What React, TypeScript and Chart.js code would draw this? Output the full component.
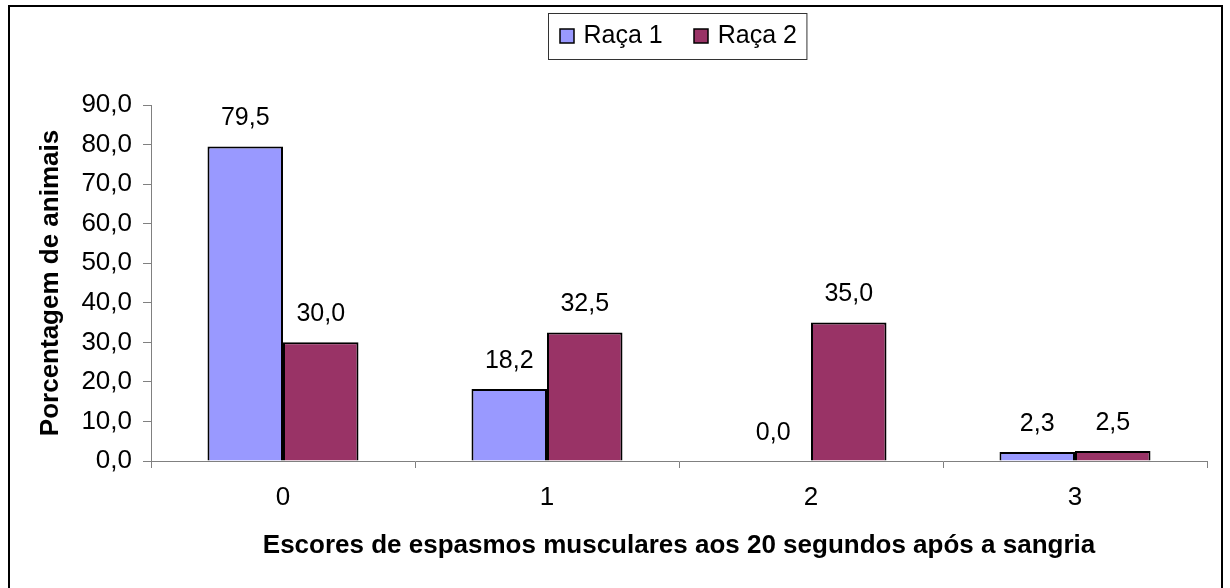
import React, { useEffect, useRef } from "react";
import { Chart, registerables } from "chart.js";

Chart.register(...registerables);

const categories = ["0", "1", "2", "3"];
const raca1 = [79.5, 18.2, 0.0, 2.3];
const raca2 = [30.0, 32.5, 35.0, 2.5];
const seriesNames = ["Raça 1", "Raça 2"];
const seriesColors = ["#9999FF", "#993366"];
const yTitle = "Porcentagem de animais";
const xTitle = "Escores de espasmos musculares aos 20 segundos após a sangria";

const FONT = "'Liberation Sans', Arial, sans-serif";
const fmt = (v: number) => v.toFixed(1).replace(".", ",");

const dataLabels = {
  id: "dataLabels",
  afterDatasetsDraw(chart: any) {
    const ctx = chart.ctx;
    ctx.save();
    ctx.font = `25px ${FONT}`;
    ctx.fillStyle = "#000";
    ctx.textAlign = "center";
    ctx.textBaseline = "middle";
    chart.data.datasets.forEach((ds: any, i: number) => {
      const meta = chart.getDatasetMeta(i);
      meta.data.forEach((el: any, j: number) => {
        ctx.fillText(fmt(ds.data[j]), el.x, el.y - 28);
      });
    });
    ctx.restore();
  },
};

const boxedLegend = {
  id: "boxedLegend",
  afterDraw(chart: any) {
    const ctx = chart.ctx;
    const area = chart.chartArea;
    ctx.save();
    ctx.font = `25px ${FONT}`;
    const sq = 14;
    const gapText = 10;
    const gapItems = 31;
    const padX = 11;
    const widths = chart.data.datasets.map((ds: any) => sq + gapText + ctx.measureText(ds.label).width);
    const total = widths.reduce((a: number, b: number) => a + b, 0) + gapItems * (widths.length - 1) + padX * 2 - 1;
    const cx = (area.left + area.right) / 2 - 2;
    const left = Math.round(cx - total / 2) + 0.5;
    const top = 13.5;
    const h = 46;
    const cy = top + h / 2 - 1;
    ctx.strokeStyle = "#333";
    ctx.lineWidth = 1;
    ctx.strokeRect(left, top, total, h);
    let x = left + padX;
    chart.data.datasets.forEach((ds: any, i: number) => {
      ctx.fillStyle = ds.backgroundColor;
      ctx.fillRect(Math.round(x), Math.round(cy - sq / 2), sq, sq);
      ctx.strokeStyle = "#000";
      ctx.lineWidth = 1.5;
      ctx.strokeRect(Math.round(x), Math.round(cy - sq / 2), sq, sq);
      ctx.fillStyle = "#000";
      ctx.textAlign = "left";
      ctx.textBaseline = "middle";
      ctx.fillText(ds.label, x + sq + gapText, cy + 1);
      x += widths[i] + gapItems;
    });
    ctx.restore();
  },
};

export default function App() {
  const ref = useRef<HTMLCanvasElement | null>(null);
  useEffect(() => {
    if (!ref.current) return;
    const chart = new Chart(ref.current, {
      type: "bar",
      data: {
        labels: categories,
        datasets: [
          { label: seriesNames[0], data: raca1, backgroundColor: seriesColors[0], borderColor: "#000", borderWidth: 2 },
          { label: seriesNames[1], data: raca2, backgroundColor: seriesColors[1], borderColor: "#000", borderWidth: 2 },
        ],
      },
      options: {
        responsive: false,
        animation: false,
        devicePixelRatio: 1,
        layout: { padding: { top: 105, right: 23, bottom: 0, left: 0 } },
        datasets: { bar: { categoryPercentage: 0.572, barPercentage: 1 } },
        plugins: { legend: { display: false }, tooltip: { enabled: false } },
        scales: {
          x: {
            afterFit: (s: any) => { s.height = 127; },
            grid: { offset: true, drawOnChartArea: false, tickLength: 7, color: "#808080" },
            border: { color: "#808080", width: 1 },
            ticks: { color: "#000", font: { family: FONT, size: 26 }, padding: 14 },
            title: { display: true, text: xTitle, color: "#000", font: { family: FONT, size: 26, weight: "bold" }, padding: { top: 0, bottom: 27 } },
          },
          y: {
            min: 0,
            max: 90,
            afterFit: (s: any) => { s.width = 151; },
            grid: { drawOnChartArea: false, tickLength: 8, color: "#808080" },
            border: { color: "#808080", width: 1 },
            ticks: { stepSize: 10, color: "#000", font: { family: FONT, size: 26 }, padding: 11, callback: (v: any) => fmt(Number(v)) },
            title: { display: true, text: yTitle, color: "#000", font: { family: FONT, size: 26, weight: "bold" }, padding: { top: 35, bottom: 0 } },
          },
        },
      },
      plugins: [dataLabels, boxedLegend],
    });
    return () => chart.destroy();
  }, []);
  return (
    <div style={{ position: "fixed", left: 0, top: 0, width: 1230, height: 588, background: "#fff" }}>
      <div style={{ position: "absolute", left: 8, top: 5, width: 1215, height: 600, border: "2px solid #000", boxSizing: "border-box" }} />
      <canvas ref={ref} width={1230} height={588} style={{ position: "absolute", left: 0, top: 0 }} />
    </div>
  );
}
